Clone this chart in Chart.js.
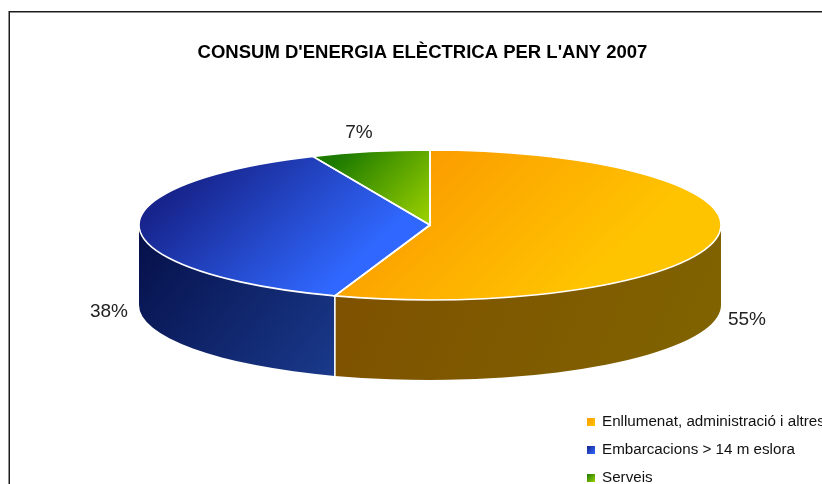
<!DOCTYPE html>
<html>
<head>
<meta charset="utf-8">
<style>
  html, body { margin: 0; padding: 0; background: #fff; overflow: hidden; }
  canvas { display: block; }
</style>
<script src="https://cdn.jsdelivr.net/npm/chart.js@4"></script>
</head>
<body>
<canvas id="pie3d" width="822" height="484"></canvas>
<script>
const titleText = "CONSUM D'ENERGIA ELÈCTRICA PER L'ANY 2007";
const categories = ['Enllumenat, administració i altres', 'Embarcacions > 14 m eslora', 'Serveis'];
const shares = [55.3, 38.1, 6.6];
const tickLabels = ['55%', '38%', '7%'];

// top face gradients, from upper left to lower right of each slice
const topColors = [['#fb9c00', '#ffc400'], ['#17248c', '#3068ff'], ['#1c7a00', '#9ad000']];
const wallColors = [['#7e5000', '#806400'], ['#050f48', '#1a3a8c'], ['#0e3d00', '#4d6800']];
const gradBoxes = [[440, 140, 580, 290], [225, 145, 345, 275], [345, 150, 425, 225]];
const labelSpots = [[747, 320], [109, 312], [359, 133]];
const legendRows = [422, 450, 478];

const wallDepth = 80;

// gradient set in screen terms but used while the canvas is stretched sideways
function stretchedGradient(ctx, cx, k, box, colors) {
  const a = box[2] - box[0], b = box[3] - box[1];
  const u0 = cx + (box[0] - cx) / k;
  const f = (a * a + b * b) / (k * k * a * a + b * b);
  const g = ctx.createLinearGradient(u0, box[1], u0 + k * a * f, box[1] + b * f);
  g.addColorStop(0, colors[0]);
  g.addColorStop(1, colors[1]);
  return g;
}

const pie3d = {
  id: 'pie3d',
  beforeDraw(chart) {
    const ctx = chart.ctx;
    ctx.save();
    ctx.strokeStyle = '#1c1c1c';
    ctx.lineWidth = 1.5;
    ctx.strokeRect(9.25, 11.75, 1000, 1000);
    ctx.restore();
  },
  beforeDatasetsDraw(chart) {
    const ctx = chart.ctx;
    const arcs = chart.getDatasetMeta(0).data;
    const area = chart.chartArea;
    const k = area.width / area.height;

    // side walls: only the part of each slice on the front half
    arcs.forEach((arc, i) => {
      const ry = arc.outerRadius, rx = ry * k;
      const from = Math.max(arc.startAngle, 0);
      const to = Math.min(arc.endAngle, Math.PI);
      if (to <= from) return;
      const x0 = arc.x + rx * Math.cos(from), x1 = arc.x + rx * Math.cos(to);
      const g = ctx.createLinearGradient(Math.min(x0, x1), arc.y, Math.max(x0, x1), arc.y + ry + wallDepth);
      g.addColorStop(0, wallColors[i][0]);
      g.addColorStop(1, wallColors[i][1]);
      ctx.save();
      ctx.beginPath();
      ctx.ellipse(arc.x, arc.y, rx, ry, 0, from, to);
      ctx.ellipse(arc.x, arc.y + wallDepth, rx, ry, 0, to, from, true);
      ctx.closePath();
      ctx.fillStyle = g;
      ctx.fill();
      ctx.restore();
    });

    // top face is the library's own arcs, squashed into an ellipse
    ctx.save();
    ctx.translate(arcs[0].x, 0);
    ctx.scale(k, 1);
    ctx.translate(-arcs[0].x, 0);
  },
  afterDatasetsDraw(chart) {
    const ctx = chart.ctx;
    ctx.restore();
    const arcs = chart.getDatasetMeta(0).data;
    const area = chart.chartArea;
    const k = area.width / area.height;

    ctx.save();
    ctx.strokeStyle = '#fff';
    ctx.lineWidth = 1.6;
    arcs.forEach(arc => {
      const ry = arc.outerRadius, rx = ry * k;
      ctx.beginPath();
      ctx.moveTo(arc.x, arc.y);
      ctx.ellipse(arc.x, arc.y, rx, ry, 0, arc.startAngle, arc.endAngle);
      ctx.closePath();
      ctx.stroke();
      const end = arc.endAngle;
      if (end > 0 && end < Math.PI) {
        const x = arc.x + rx * Math.cos(end), y = arc.y + ry * Math.sin(end);
        ctx.beginPath();
        ctx.moveTo(x, y);
        ctx.lineTo(x, y + wallDepth);
        ctx.stroke();
      }
    });
    ctx.restore();
  },
  afterDraw(chart) {
    const ctx = chart.ctx;
    ctx.save();
    ctx.fillStyle = '#000';
    ctx.textBaseline = 'middle';
    ctx.textAlign = 'center';
    ctx.font = 'bold 18.5px "Liberation Sans", Arial, sans-serif';
    ctx.fillText(titleText, 422.5, 53);

    ctx.fillStyle = '#222';
    ctx.font = '19px "Liberation Sans", Arial, sans-serif';
    tickLabels.forEach((t, i) => ctx.fillText(t, labelSpots[i][0], labelSpots[i][1]));

    ctx.textAlign = 'left';
    ctx.font = '15.2px "Liberation Sans", Arial, sans-serif';
    chart.data.labels.forEach((name, i) => {
      const y = legendRows[i];
      const g = ctx.createLinearGradient(587, y - 4, 595, y + 4);
      g.addColorStop(0, topColors[i][0]);
      g.addColorStop(1, topColors[i][1]);
      ctx.fillStyle = g;
      ctx.fillRect(587, y - 4, 8, 8);
      ctx.fillStyle = '#111';
      ctx.fillText(name, 602, y);
    });
    ctx.restore();
  }
};

new Chart(document.getElementById('pie3d').getContext('2d'), {
  type: 'pie',
  data: {
    labels: categories,
    datasets: [{
      data: shares,
      borderWidth: 0,
      backgroundColor(c) {
        const chart = c.chart;
        const area = chart.chartArea;
        if (!area) return topColors[c.dataIndex][0];
        const cx = (area.left + area.right) / 2;
        return stretchedGradient(chart.ctx, cx, area.width / area.height, gradBoxes[c.dataIndex], topColors[c.dataIndex]);
      }
    }]
  },
  options: {
    responsive: false,
    animation: false,
    devicePixelRatio: 1,
    layout: { padding: { left: 139, right: 101, top: 150, bottom: 184 } },
    plugins: { legend: { display: false }, title: { display: false }, tooltip: { enabled: false } }
  },
  plugins: [pie3d]
});
</script>
</body>
</html>
